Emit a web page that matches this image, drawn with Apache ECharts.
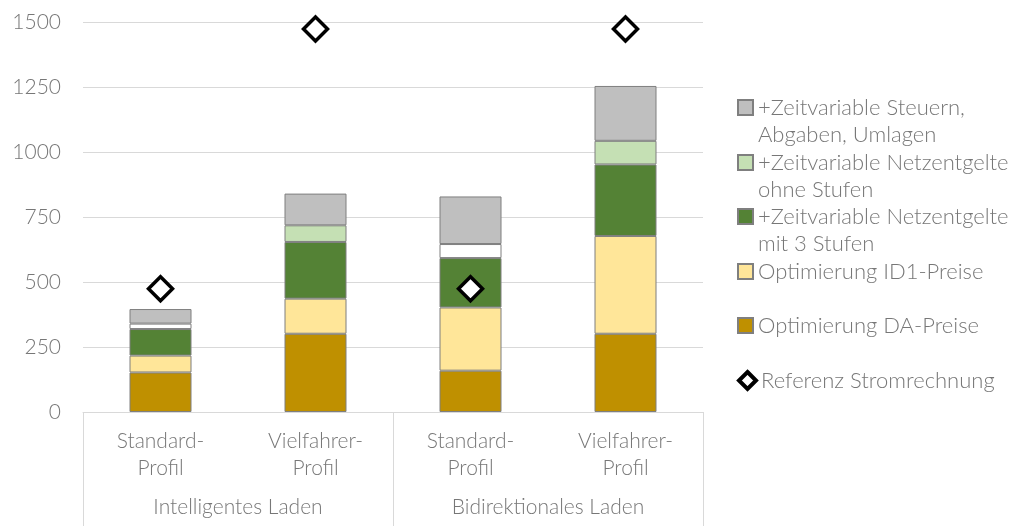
<!DOCTYPE html>
<html>
<head>
<meta charset="utf-8">
<script src="https://cdn.jsdelivr.net/npm/echarts@6/dist/echarts.min.js"></script>
<style>
html,body{margin:0;padding:0;background:#fff;}
#chart{width:1017px;height:526px;}
</style>
</head>
<body>
<div id="chart"></div>
<script>
// ---- data ----
const categories = ['Standard-\nProfil', 'Vielfahrer-\nProfil', 'Standard-\nProfil', 'Vielfahrer-\nProfil'];
const groups = ['Intelligentes Laden', 'Bidirektionales Laden'];
const daPreise = [152, 301, 159, 301];
const id1Preise = [65, 135, 243, 376];
const netz3Stufen = [102, 218, 190, 275];
const netzOhneStufen = [21, 64, 54, 91];
const steuern = [56, 122, 183, 211];
const referenz = [474, 1473, 474, 1473];
const yTicks = { min: 0, max: 1500, interval: 250 };

const names = {
  da: 'Optimierung DA-Preise',
  id1: 'Optimierung ID1-Preise',
  n3: '+Zeitvariable Netzentgelte\nmit 3 Stufen',
  n0: '+Zeitvariable Netzentgelte\nohne Stufen',
  st: '+Zeitvariable Steuern,\nAbgaben, Umlagen',
  ref: 'Referenz Stromrechnung'
};

// ---- style ----
const FONT = 'Lato';
const WEIGHT = 300;
const TXT = '#777777';
const GRID = '#d9d9d9';
const BORDER = '#7f7f7f';
const ohneStufenFill = ['#ffffff', '#C5E0B4', '#ffffff', '#C5E0B4'];

function barSeries(name, data, color) {
  return {
    name: name, type: 'bar', stack: 'total', barWidth: '40%',
    data: data,
    itemStyle: { color: color, borderColor: BORDER, borderWidth: 1 },
    emphasis: { disabled: true }
  };
}

const legendCenters = [107, 162, 216, 271, 325, 380];
const legendOrder = [names.st, names.n0, names.n3, names.id1, names.da, names.ref];
const legends = legendOrder.map(function (n, i) {
  const twoLine = n.indexOf('\n') >= 0;
  const isRef = n === names.ref;
  return {
    show: true,
    orient: 'vertical',
    left: 737,
    top: legendCenters[i] - 13 - (twoLine ? 27 : 0),
    itemWidth: isRef ? 17 : 15, itemHeight: isRef ? 17 : 15, itemGap: 0,
    padding: 0,
    icon: isRef ? 'diamond' : 'rect',
    selectedMode: false,
    data: [{
      name: n,
      itemStyle: isRef ? { color: '#ffffff', borderColor: '#000000', borderWidth: 4 } : undefined
    }],
    formatter: function (t) { return twoLine ? '\u00a0\n' + t : t; },
    textStyle: {
      fontFamily: FONT, fontWeight: WEIGHT, fontSize: 22, color: TXT, lineHeight: 27
    }
  };
});

const option = {
  animation: false,
  backgroundColor: '#fff',
  textStyle: { fontFamily: FONT },
  grid: { left: 83, right: 314, top: 22, bottom: 114, containLabel: false },
  legend: legends,
  xAxis: [
    {
      type: 'category', data: categories, position: 'bottom',
      axisLine: { show: true, lineStyle: { color: GRID, width: 1 } },
      axisTick: { show: false },
      axisLabel: { color: TXT, fontFamily: FONT, fontWeight: WEIGHT, fontSize: 21, lineHeight: 27, margin: 16, interval: 0 }
    },
    {
      type: 'category', data: groups, position: 'bottom',
      axisLine: { show: false },
      axisTick: { show: true, length: 114, interval: 0, alignWithLabel: false, lineStyle: { color: GRID, width: 1 } },
      axisLabel: { color: TXT, fontFamily: FONT, fontWeight: WEIGHT, fontSize: 21, margin: 85, interval: 0 },
      splitLine: { show: false }
    }
  ],
  yAxis: {
    type: 'value', min: yTicks.min, max: yTicks.max, interval: yTicks.interval,
    axisLine: { show: false }, axisTick: { show: false },
    axisLabel: {
      color: TXT, fontFamily: FONT, fontWeight: WEIGHT, fontSize: 21, margin: 22,
      formatter: function (v) { return String(v); }
    },
    splitLine: { lineStyle: { color: GRID, width: 1 } }
  },
  series: [
    barSeries(names.da, daPreise, '#BF9000'),
    barSeries(names.id1, id1Preise, '#FFE699'),
    barSeries(names.n3, netz3Stufen, '#548235'),
    barSeries(names.n0, netzOhneStufen.map(function (v, i) {
      return { value: v, itemStyle: { color: ohneStufenFill[i] } };
    }), '#C5E0B4'),
    barSeries(names.st, steuern, '#BFBFBF'),
    {
      name: names.ref, type: 'scatter', data: referenz,
      symbol: 'diamond', symbolSize: 24, z: 5,
      itemStyle: { color: '#ffffff', borderColor: '#000000', borderWidth: 3.5, opacity: 1 },
      emphasis: { disabled: true }
    }
  ]
};

const chart = echarts.init(document.getElementById('chart'), null, { renderer: 'canvas' });
chart.setOption(option);
</script>
</body>
</html>
